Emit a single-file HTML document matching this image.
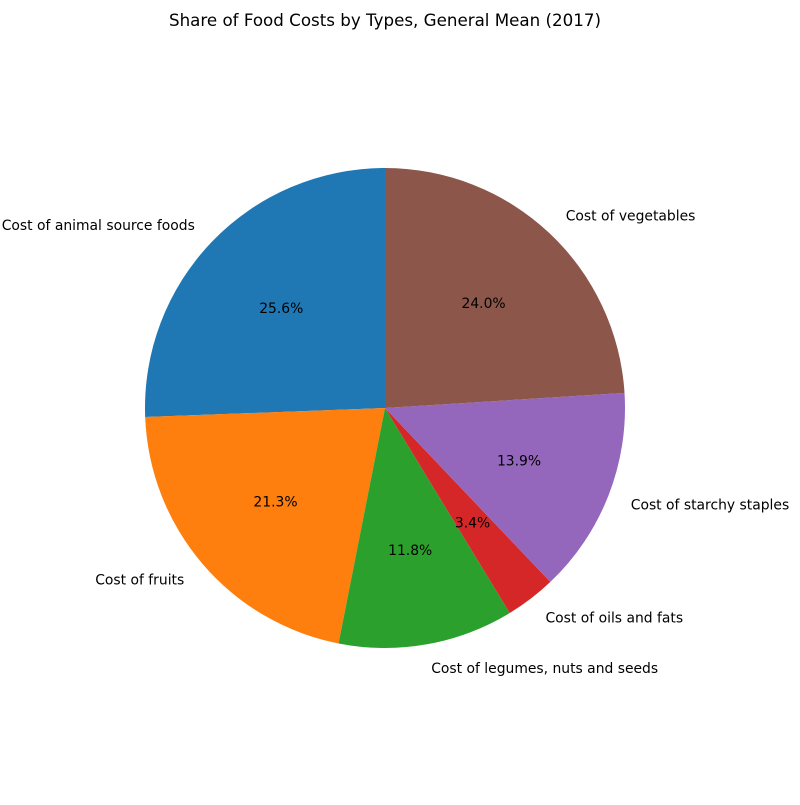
<!DOCTYPE html>
<html><head><meta charset="utf-8"><style>
body{margin:0;background:#fff;}
svg text{font-family:"DejaVu Sans","Liberation Sans",sans-serif;}
</style></head><body>
<svg id="chart" width="800" height="800" xmlns="http://www.w3.org/2000/svg">
<rect width="800" height="800" fill="#fff"/>
<text x="385" y="26" font-size="16.7" text-anchor="middle" fill="#000">Share of Food Costs by Types, General Mean (2017)</text>
<g id="slices"></g>
</svg>
<script>
const categories = ["Cost of animal source foods","Cost of fruits","Cost of legumes, nuts and seeds","Cost of oils and fats","Cost of starchy staples","Cost of vegetables"];
const values = [25.6, 21.3, 11.8, 3.4, 13.9, 24.0];
const colors = ["#1f77b4","#ff7f0e","#2ca02c","#d62728","#9467bd","#8c564b"];
const cx = 385, cy = 408, R = 240;
const total = values.reduce((a,b)=>a+b,0);
const g = document.getElementById('slices');
const ns = "http://www.w3.org/2000/svg";
let ang = 90;
function pt(a, r){const t=a*Math.PI/180;return [cx + r*Math.cos(t), cy - r*Math.sin(t)];}
values.forEach((v,i)=>{
  const sweep = v/total*360;
  const a0 = ang, a1 = ang + sweep;
  const p0 = pt(a0,R), p1 = pt(a1,R);
  const large = sweep>180?1:0;
  const path = document.createElementNS(ns,'path');
  path.setAttribute('d',`M${cx},${cy} L${p0[0]},${p0[1]} A${R},${R} 0 ${large} 0 ${p1[0]},${p1[1]} Z`);
  path.setAttribute('fill',colors[i]);
  
  
  g.appendChild(path);
  const mid = (a0+a1)/2;
  const lp = pt(mid, R*1.1);
  const lab = document.createElementNS(ns,'text');
  lab.setAttribute('x',lp[0]); lab.setAttribute('y',lp[1]+5);
  lab.setAttribute('font-size','13.9');
  lab.setAttribute('text-anchor', lp[0] < cx ? 'end' : 'start');
  lab.textContent = categories[i];
  
  
  g.appendChild(lab);
  const pp = pt(mid, R*0.6);
  const pct = document.createElementNS(ns,'text');
  pct.setAttribute('x',pp[0]); pct.setAttribute('y',pp[1]+5);
  pct.setAttribute('font-size','13.9');
  pct.setAttribute('text-anchor','middle');
  pct.textContent = (v/total*100).toFixed(1)+'%';
  
  
  g.appendChild(pct);
  ang = a1;
});
</script>
</body></html>
